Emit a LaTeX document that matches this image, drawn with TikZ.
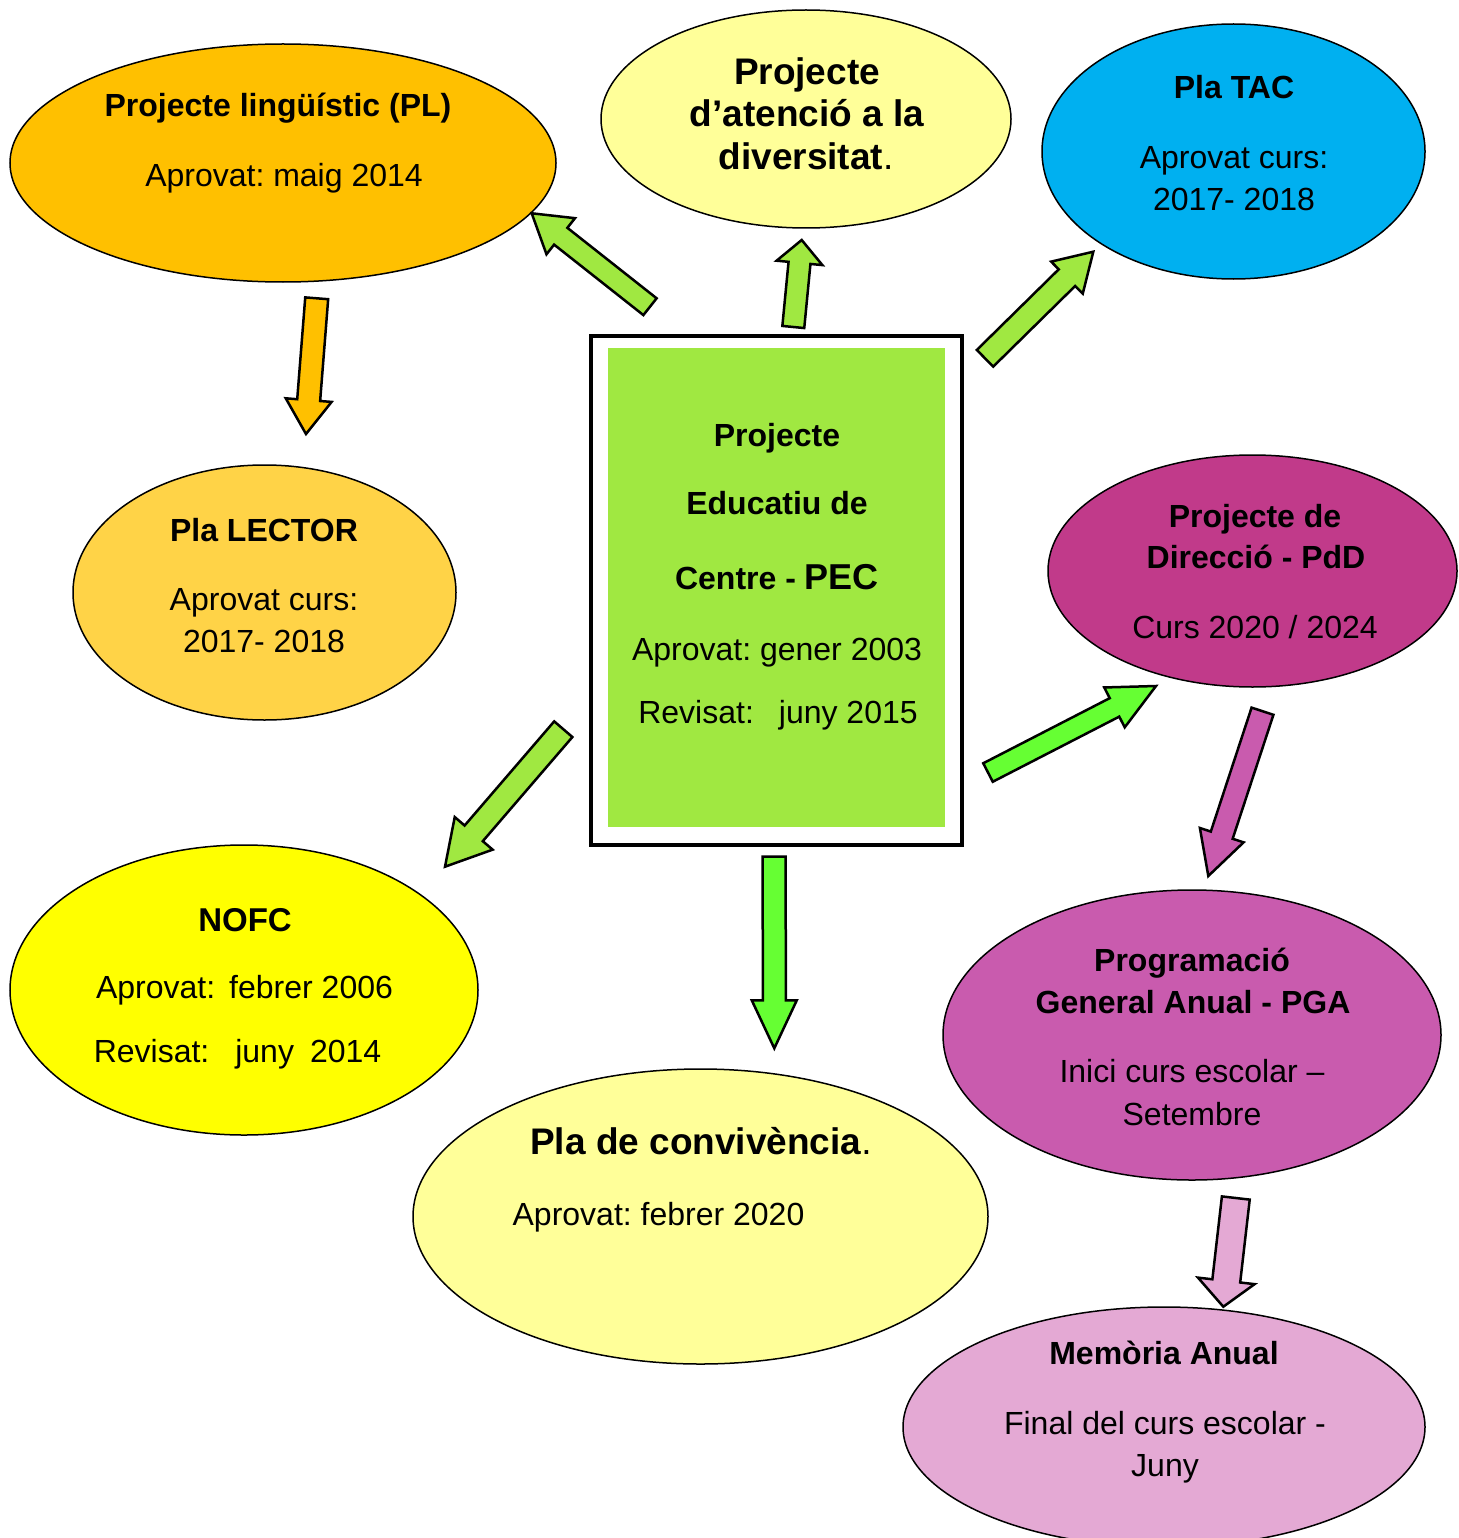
\documentclass[tikz,border=0pt]{standalone}
\usepackage{fontspec}
\setmainfont{Liberation Sans}
\usetikzlibrary{shapes.geometric,calc}
\definecolor{cPL}{HTML}{FFC000}
\definecolor{cLY}{HTML}{FFFF99}
\definecolor{cTAC}{HTML}{00B0F0}
\definecolor{cLEC}{HTML}{FFD347}
\definecolor{cPDD}{HTML}{C13A8A}
\definecolor{cNOFC}{HTML}{FFFF00}
\definecolor{cPGA}{HTML}{C95BAE}
\definecolor{cMEM}{HTML}{E4A9D4}
\definecolor{cG1}{HTML}{A0E841}
\definecolor{cG2}{HTML}{66FF33}
\newcommand\blockarrow[6]{%
  \coordinate (ah) at ($(#2)!#5!(#1)$);
  \draw[arrowline, fill=#6] ($(#1)!#3!90:(#2)$) -- ($(ah)!#3!90:(#2)$) -- ($(ah)!#4!90:(#2)$) -- (#2) -- ($(ah)!#4!-90:(#2)$) -- ($(ah)!#3!-90:(#2)$) -- ($(#1)!#3!-90:(#2)$) -- cycle;}
\frenchspacing
\begin{document}
\begin{tikzpicture}[x=1pt,y=-1pt,
  ell/.style={ellipse, draw=black, line width=1.5pt, inner sep=0pt},
  arrowline/.style={draw=black, line width=2.5pt, line join=miter},
  tb/.style={anchor=base, font=\fontsize{32}{38}\selectfont\bfseries\frenchspacing},
  tr/.style={anchor=base, font=\fontsize{32}{38}\selectfont\frenchspacing},
  tbl/.style={anchor=base, font=\fontsize{37}{44}\selectfont\bfseries\frenchspacing}]
\useasboundingbox (0,0) rectangle (1458,1538);
\fill[white] (0,0) rectangle (1458,1538);

% ellipses
\node[ell, fill=cPL, minimum width=546pt, minimum height=238pt] (pl) at (283,163) {};
\node[ell, fill=cLY, minimum width=410pt, minimum height=218pt] (pad) at (806,119) {};
\node[ell, fill=cTAC, minimum width=383pt, minimum height=255pt] (tac) at (1233.5,151.5) {};
\node[ell, fill=cLEC, minimum width=383pt, minimum height=255pt] (lec) at (264.5,592.5) {};
\node[ell, fill=cPDD, minimum width=409pt, minimum height=232pt] (pdd) at (1252.5,571) {};
\node[ell, fill=cNOFC, minimum width=468pt, minimum height=290pt] (nofc) at (244,990) {};
\node[ell, fill=cLY, minimum width=575pt, minimum height=295pt] (conv) at (700.5,1216.5) {};
\node[ell, fill=cPGA, minimum width=498pt, minimum height=290pt] (pga) at (1192,1035) {};
\node[ell, fill=cMEM, minimum width=522pt, minimum height=240pt] (mem) at (1164,1427) {};

% central box
\node[draw=black, line width=4pt, fill=white, minimum width=371pt, minimum height=509pt, inner sep=0pt] (pecbox) at (776.5,590.5) {};
\node[fill=cG1, minimum width=337pt, minimum height=479pt, inner sep=0pt] (pec) at (776.5,587.5) {};

% arrow end points
\coordinate (a1s) at (650,306.7);   \coordinate (a1e) at (531.7,213.3);
\coordinate (a2s) at (793.3,327);   \coordinate (a2e) at (801.7,240);
\coordinate (a3s) at (985,358.3);   \coordinate (a3e) at (1093.3,251.7);
\coordinate (a4s) at (316.7,298.3); \coordinate (a4e) at (306,434);
\coordinate (a5s) at (563.3,729.2); \coordinate (a5e) at (445,866.7);
\coordinate (a6s) at (774.2,856.7); \coordinate (a6e) at (774.3,1048.3);
\coordinate (a7s) at (988,772.5);   \coordinate (a7e) at (1156,686);
\coordinate (a8s) at (1262.5,711.2);\coordinate (a8e) at (1208.3,876);
\coordinate (a9s) at (1235.8,1198); \coordinate (a9e) at (1223.3,1306.7);

\blockarrow{a1s}{a1e}{10.7pt}{23pt}{37pt}{cG1}
\blockarrow{a2s}{a2e}{11pt}{23pt}{23pt}{cG1}
\blockarrow{a3s}{a3e}{11.7pt}{22.5pt}{37pt}{cG1}
\blockarrow{a4s}{a4e}{11.5pt}{23pt}{34pt}{cPL}
\blockarrow{a5s}{a5e}{12pt}{25pt}{44pt}{cG1}
\blockarrow{a6s}{a6e}{11.5pt}{22.5pt}{48pt}{cG2}
\blockarrow{a7s}{a7e}{10.4pt}{22.4pt}{46.7pt}{cG2}
\blockarrow{a8s}{a8e}{11.5pt}{23pt}{43pt}{cPGA}
\blockarrow{a9s}{a9e}{14pt}{28.5pt}{26pt}{cMEM}

% texts
\node[tb] (plt1) at (278,116.5) {Projecte lingüístic (PL)};
\node[tr] (plt2) at (284,186.5) {Aprovat: maig 2014};

\node[tbl] (padt1) at (807,85) {Projecte};
\node[tbl] (padt2) at (807,127) {d’atenció a la};
\node[tbl] (padt3) at (806,170) {diversitat\mdseries.};

\node[tb] (tact1) at (1234,98.5) {Pla TAC};
\node[tr] (tact2) at (1234,168.5) {Aprovat curs:};
\node[tr] (tact3) at (1234,210.5) {2017- 2018};

\node[tb] (lect1) at (264,541.5) {Pla LECTOR};
\node[tr] (lect2) at (264,610.5) {Aprovat curs:};
\node[tr] (lect3) at (264,652.5) {2017- 2018};

\node[tb] (pect1) at (777,446.5) {Projecte};
\node[tb] (pect2) at (777,514.5) {Educatiu de};
\node[tb] (pect3) at (777,589.5) {Centre - {\fontsize{36}{40}\selectfont PEC}};
\node[tr] (pect4) at (777,660.5) {Aprovat: gener 2003};
\node[tr] (pect5) at (778,723.5) {Revisat:\hspace{25pt}juny 2015};

\node[tb] (pddt1) at (1255,527.5) {Projecte de};
\node[tb] (pddt2) at (1256,568.5) {Direcció - PdD};
\node[tr] (pddt3) at (1255,638.5) {Curs 2020 / 2024};

\node[tb, font=\fontsize{33}{38}\selectfont\bfseries] (nofct1) at (245,931) {NOFC};
\node[tr] (nofct2) at (244.5,998.5) {Aprovat:\hspace{14pt}febrer 2006};
\node[tr] (nofct3) at (237.5,1062.5) {Revisat:\hspace{26pt}juny\hspace{16pt}2014};

\node[tbl] (convt1) at (701,1154) {Pla de convivència\mdseries.};
\node[tr] (convt2) at (658.5,1225.5) {Aprovat: febrer 2020};

\node[tb] (pgat1) at (1192,971.5) {Programació};
\node[tb] (pgat2) at (1193,1013.5) {General Anual - PGA};
\node[tr] (pgat3) at (1192,1082.5) {Inici curs escolar –};
\node[tr] (pgat4) at (1192,1125.5) {Setembre};

\node[tb] (memt1) at (1164,1364.5) {Memòria Anual};
\node[tr] (memt2) at (1165,1434.5) {Final del curs escolar -};
\node[tr] (memt3) at (1165,1476.5) {Juny};
\end{tikzpicture}
\end{document}
